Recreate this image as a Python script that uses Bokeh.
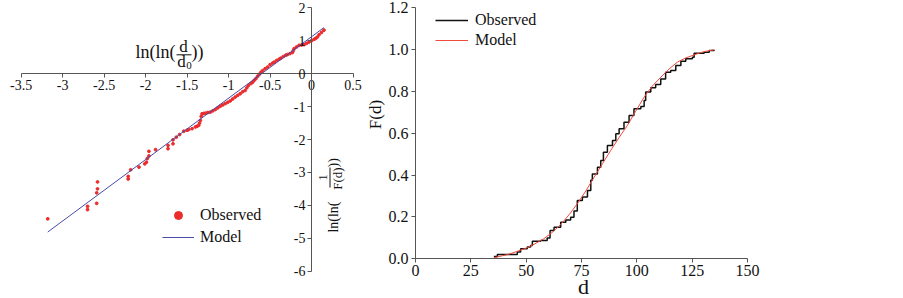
from bokeh.plotting import figure
from bokeh.models import (Range1d, LinearAxis, FixedTicker, Label, Legend, LegendItem,
                          CustomJSTickFormatter, ColumnDataSource)
from bokeh.layouts import row
from bokeh.embed import file_html
from bokeh.resources import INLINE

FONT = "Liberation Serif"

# ---------------- Left panel: linearised Weibull plot ----------------
weib_x = [-3.18, -2.70, -2.70, -2.59, -2.59, -2.58, -2.58, -2.21, -2.21, -2.18, -2.08,
          -2.01, -1.99, -1.98, -1.96, -1.96, -1.88, -1.73, -1.73, -1.67, -1.67, -1.63,
          -1.59, -1.54, -1.50, -1.48, -1.44, -1.40, -1.38, -1.36, -1.35, -1.34, -1.33,
          -1.32, -1.30, -1.28, -1.25, -1.22, -1.19, -1.16, -1.13, -1.10, -1.07, -1.04,
          -1.01, -0.98, -0.95, -0.92, -0.89, -0.86, -0.83, -0.80, -0.78, -0.76, -0.73,
          -0.71, -0.69, -0.67, -0.65, -0.63, -0.61, -0.59, -0.56, -0.53, -0.50, -0.47,
          -0.45, -0.42, -0.39, -0.37, -0.34, -0.31, -0.29, -0.26, -0.23, -0.22, -0.21,
          -0.18, -0.15, -0.12, -0.09, -0.06, -0.03, 0.00, 0.03, 0.05, 0.07, 0.09, 0.12, 0.15]
weib_y = [-4.41, -4.03, -4.13, -3.94, -3.62, -3.50, -3.29, -3.12, -3.20, -2.92, -2.84,
          -2.74, -2.69, -2.58, -2.50, -2.36, -2.31, -2.28, -2.18, -2.13, -2.01, -1.93,
          -1.85, -1.75, -1.72, -1.70, -1.67, -1.62, -1.60, -1.57, -1.50, -1.42, -1.30,
          -1.22, -1.21, -1.20, -1.18, -1.17, -1.13, -1.09, -1.04, -0.99, -0.95, -0.91,
          -0.87, -0.83, -0.77, -0.71, -0.66, -0.61, -0.55, -0.51, -0.43, -0.36, -0.30,
          -0.26, -0.20, -0.15, -0.08, -0.02, 0.04, 0.09, 0.15, 0.20, 0.27, 0.32,
          0.35, 0.40, 0.44, 0.47, 0.52, 0.56, 0.58, 0.61, 0.64, 0.70, 0.76,
          0.81, 0.86, 0.87, 0.88, 0.92, 0.96, 1.00, 1.04, 1.07, 1.11, 1.18, 1.25, 1.32]
model_x = [-3.18, 0.15]
model_y = [-4.81, 1.40]
left_xticks = [-3.5, -3, -2.5, -2, -1.5, -1, -0.5, 0, 0.5]
left_yticks = [2, 1, 0, -1, -2, -3, -4, -5, -6]

# ---------------- Right panel: CDF ----------------
obs_d = [35.4, 37, 42.2, 46, 47.5, 50.5, 52, 52.8, 56.5, 59.5, 60.8, 62.6, 65.6, 67.9,
         70.1, 71.6, 73.1, 75.4, 77.7, 79.2, 79.9, 82.2, 83.7, 84.9, 86.7, 89, 90.5, 92,
         94.2, 96.5, 98.7, 101.8, 103.3, 104, 106.3, 108.5, 110.8, 113, 115.3, 117.6,
         119.9, 122.1, 125.1, 125.9, 130.4, 132.7, 134.9]
obs_F = [0.011, 0.02, 0.02, 0.032, 0.048, 0.056, 0.064, 0.084, 0.088, 0.10, 0.135, 0.151,
         0.175, 0.186, 0.199, 0.228, 0.279, 0.295, 0.327, 0.375, 0.406, 0.438, 0.47, 0.51,
         0.542, 0.566, 0.598, 0.622, 0.653, 0.685, 0.717, 0.728, 0.757, 0.797, 0.818,
         0.833, 0.86, 0.892, 0.90, 0.924, 0.945, 0.956, 0.964, 0.983, 0.988, 0.996, 0.999]
mod_d = [35.4, 41.5, 45, 50.5, 54, 58, 62, 65.6, 69.5, 73.1, 77, 80.7, 84.5, 88.2, 92,
         95.7, 99.5, 103.3, 107, 110.8, 114.5, 118.3, 122, 125.9, 130, 134.9]
mod_F = [0.005, 0.02, 0.032, 0.053, 0.072, 0.096, 0.128, 0.164, 0.212, 0.263, 0.325,
         0.39, 0.455, 0.518, 0.58, 0.637, 0.706, 0.773, 0.826, 0.868, 0.907, 0.94, 0.96,
         0.975, 0.99, 0.999]
right_xticks = [0, 25, 50, 75, 100, 125, 150]
right_yticks = [0.0, 0.2, 0.4, 0.6, 0.8, 1.0, 1.2]

W1, W2, H = 362, 541, 298

# Left panel: x -3.5..0.5 drawn over px 20.7..352.5 ; y 2..-6 over px 7.3..270.7
L_X0, L_X1, L_Y0, L_Y1 = 20.7, 352.5, 7.3, 270.7
lsx = (L_X1 - L_X0) / 4.0
lsy = (L_Y1 - L_Y0) / 8.0
left_xr = Range1d(-3.5 - L_X0 / lsx, 0.5 + (W1 - L_X1) / lsx)
left_yr = Range1d(-6 - (H - L_Y1) / lsy, 2 + L_Y0 / lsy)

# Right panel (local px): x 0..150 over 53..385 ; y 0..1.2 over 258.3..7.3
R_X0, R_X1, R_Y0, R_Y1 = 53.0, 385.0, 7.3, 258.3
rsx = (R_X1 - R_X0) / 150.0
rsy = (R_Y1 - R_Y0) / 1.2
right_xr = Range1d(-R_X0 / rsx, 150 + (W2 - R_X1) / rsx)
right_yr = Range1d(-(H - R_Y1) / rsy, 1.2 + R_Y0 / rsy)


def style_axis(ax, size, standoff):
    ax.major_label_text_font = FONT
    ax.major_label_text_font_size = size
    ax.major_label_text_color = "#111111"
    ax.axis_line_color = "#555555"
    ax.major_tick_line_color = "#555555"
    ax.major_tick_out = 4
    ax.major_tick_in = 0
    ax.minor_tick_line_color = None
    ax.major_label_standoff = standoff


def make_fig(w, xr, yr):
    f = figure(width=w, height=H, x_range=xr, y_range=yr,
               x_axis_location=None, y_axis_location=None,
               min_border_left=0, min_border_right=0, min_border_top=0, min_border_bottom=0,
               output_backend="svg", toolbar_location=None)
    f.grid.visible = False
    f.outline_line_color = None
    return f


# ---------- left figure ----------
p1 = make_fig(W1, left_xr, left_yr)
xa = LinearAxis(fixed_location=0, bounds=(-3.5, 0.5), ticker=FixedTicker(ticks=left_xticks),
                formatter=CustomJSTickFormatter(code="return tick.toString()"))
ya = LinearAxis(fixed_location=0, bounds=(-6, 2), ticker=FixedTicker(ticks=left_yticks),
                formatter=CustomJSTickFormatter(code="return tick.toString()"))
style_axis(xa, "14px", 2)
style_axis(ya, "14px", 2)
p1.add_layout(xa, "below")
p1.add_layout(ya, "left")

src_w = ColumnDataSource(dict(x=weib_x, y=weib_y))
r_obs = p1.scatter("x", "y", source=src_w, size=2.8, color="#ec2b2b")
r_mod = p1.line(model_x, model_y, color="#4a4aa8", line_width=1)

leg1 = Legend(items=[LegendItem(label="Observed", renderers=[r_obs]),
                     LegendItem(label="Model", renderers=[r_mod])],
              location=(162, H - 247), glyph_width=32, glyph_height=20, spacing=2,
              padding=0, margin=0, label_standoff=6, border_line_color=None,
              background_fill_alpha=0, label_text_font=FONT,
              label_text_font_size="16px", label_text_color="#111111")
p1.add_layout(leg1)


def ldx(px):
    return -3.5 + (px - L_X0) / lsx


def ldy(py):
    return 2 - (py - L_Y0) / lsy


def rdx(px):  # global px
    return (px - 362 - R_X0) / rsx


def rdy(py):
    return (R_Y1 - py) / rsy


def lab(fig, fx, fy, text, px, py, size, align="center", angle=0.0, baseline="middle"):
    fig.add_layout(Label(x=fx(px), y=fy(py), text=text, text_font=FONT,
                         text_font_size=size, text_align=align, text_baseline=baseline,
                         angle=angle, text_color="#111111"))


# x-axis title ln(ln(d/d0))
lab(p1, ldx, ldy, "ln(ln(", 175, 51, "18px", "right")
lab(p1, ldx, ldy, "d", 183, 46, "17px")
lab(p1, ldx, ldy, "d", 181, 61, "17px")
lab(p1, ldx, ldy, "0", 188.5, 65, "11px")
lab(p1, ldx, ldy, "))", 191, 51, "18px", "left")
p1.segment(x0=[ldx(176)], y0=[ldy(54.3)], x1=[ldx(191)], y1=[ldy(54.3)],
           line_color="#111111", line_width=1)

# y-axis title ln(ln(1/F(d)))  (rotated)
lab(p1, ldx, ldy, "ln(ln(", 333, 201, "14px", "right", angle=1.5708)
lab(p1, ldx, ldy, "1", 322.5, 177, "13px", "center", angle=1.5708)
lab(p1, ldx, ldy, "F(d)", 337, 178, "13px", "center", angle=1.5708)
lab(p1, ldx, ldy, "))", 333, 167, "14px", "left", angle=1.5708)
p1.segment(x0=[ldx(329.5)], y0=[ldy(167)], x1=[ldx(329.5)], y1=[ldy(187)],
           line_color="#111111", line_width=1)

# ---------- right figure ----------
p2 = make_fig(W2, right_xr, right_yr)
xb = LinearAxis(fixed_location=0, bounds=(0, 150), ticker=FixedTicker(ticks=right_xticks),
                formatter=CustomJSTickFormatter(code="return tick.toString()"))
yb = LinearAxis(fixed_location=0, bounds=(0, 1.2), ticker=FixedTicker(ticks=right_yticks),
                formatter=CustomJSTickFormatter(code="return tick.toFixed(1)"))
style_axis(xb, "16px", 2)
style_axis(yb, "16px", 3)
p2.add_layout(xb, "below")
p2.add_layout(yb, "left")

r_o2 = p2.step(obs_d, obs_F, mode="after", color="#111111", line_width=1.5)
r_m2 = p2.line(mod_d, mod_F, color="#f04a3c", line_width=1)

leg2 = Legend(items=[LegendItem(label="Observed", renderers=[r_o2]),
                     LegendItem(label="Model", renderers=[r_m2])],
              location=(435 - 362, H - 49), glyph_width=33, glyph_height=18, spacing=2,
              padding=0, margin=0, label_standoff=7, border_line_color=None,
              background_fill_alpha=0, label_text_font=FONT,
              label_text_font_size="16px", label_text_color="#111111")
p2.add_layout(leg2)

# axis titles of the right panel
lab(p2, rdx, rdy, "d", 583, 285.5, "22px", "center")
lab(p2, rdx, rdy, "F(d)", 375, 114, "17px", "center", angle=1.5708)

layout = row(p1, p2)
open("out.html", "w").write(file_html(layout, INLINE))
